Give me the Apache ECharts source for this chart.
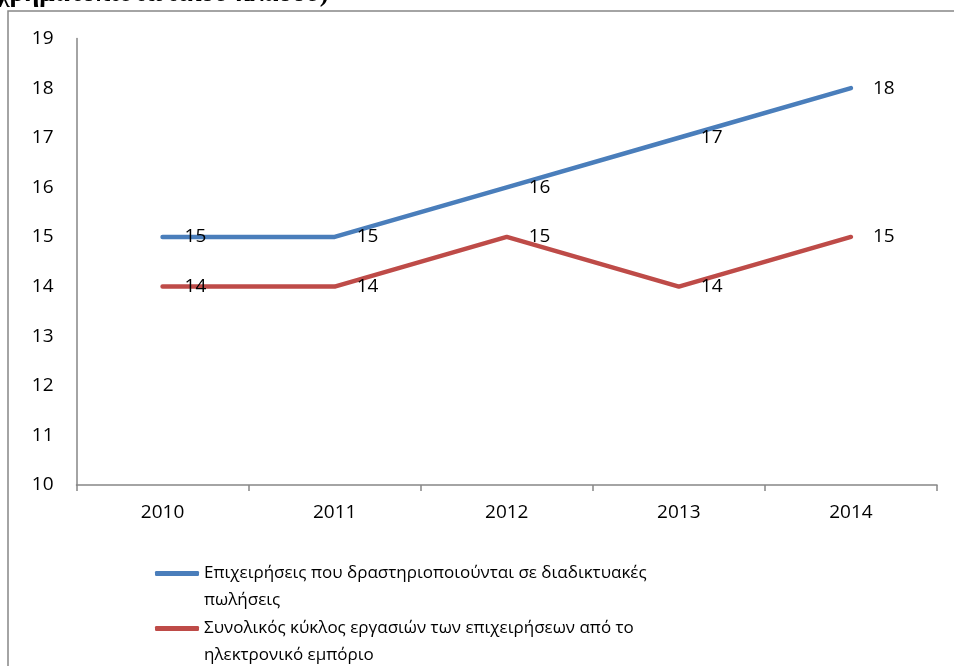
<!DOCTYPE html>
<html>
<head>
<meta charset="utf-8">
<script src="https://cdn.jsdelivr.net/npm/echarts@6/dist/echarts.min.js"></script>
<style>
  html, body { margin: 0; padding: 0; background: #fff; }
  #chart { width: 954px; height: 666px; }
</style>
</head>
<body>
<div id="chart"></div>
<script>
// Years on the category axis
const years = ['2010', '2011', '2012', '2013', '2014'];

// Series names (legend text wraps onto two lines)
const seriesNames = [
  'Επιχειρήσεις που δραστηριοποιούνται σε διαδικτυακές\nπωλήσεις',
  'Συνολικός κύκλος εργασιών των επιχειρήσεων από το\nηλεκτρονικό εμπόριο'
];

// Values per year
const onlineSales = [15, 15, 16, 17, 18];
const ecommerceTurnover = [14, 14, 15, 14, 15];

// Value axis range
const yMin = 10;
const yMax = 19;
const yStep = 1;

const titleText = 'χρηματοπιστωτικού κλάδου)';

const FONT = '"Open Sans", "Noto Sans", sans-serif';
const AXIS_GREY = '#868686';
const BLUE = '#4A7EBB';
const RED = '#BE4B48';

const chart = echarts.init(document.getElementById('chart'), null, { renderer: 'canvas' });

// One legend block per series; a leading blank line keeps the icon level
// with the first line of the wrapped name.
function legendFor(name, top) {
  return {
    data: [name],
    left: 150,
    top: top,
    orient: 'vertical',
    icon: 'roundRect',
    itemWidth: 44,
    itemHeight: 5,
    itemGap: 0,
    padding: 5,
    selectedMode: false,
    formatter: n => '\n' + n,
    textStyle: {
      fontFamily: FONT,
      fontSize: 17,
      color: '#000',
      lineHeight: 27
    }
  };
}

function valueLabel() {
  return {
    show: true,
    position: 'right',
    distance: 22,
    fontFamily: FONT,
    fontSize: 19,
    color: '#000'
  };
}

const option = {
  backgroundColor: '#fff',
  animation: false,
  title: {
    text: titleText,
    left: -3,
    top: -19,
    padding: 0,
    textStyle: {
      fontFamily: '"Liberation Serif", "DejaVu Serif", serif',
      fontWeight: 'bold',
      fontSize: 27,
      color: '#000'
    }
  },
  graphic: [{
    type: 'rect',
    shape: { x: 8, y: 11, width: 1000, height: 800 },
    style: { fill: 'none', stroke: AXIS_GREY, lineWidth: 1.5 },
    silent: true,
    z: -1
  }],
  legend: [
    legendFor(seriesNames[0], 528),
    legendFor(seriesNames[1], 583)
  ],
  grid: {
    left: 76.5,
    top: 38.5,
    right: 17,
    bottom: 181,
    containLabel: false
  },
  xAxis: {
    type: 'category',
    data: years,
    boundaryGap: true,
    axisLine: { lineStyle: { color: AXIS_GREY, width: 1.5 } },
    axisTick: { show: true, length: 6, alignWithLabel: false, lineStyle: { color: AXIS_GREY, width: 1.5 } },
    axisLabel: { fontFamily: FONT, fontSize: 19, color: '#000', margin: 18 },
    splitLine: { show: false }
  },
  yAxis: {
    type: 'value',
    min: yMin,
    max: yMax,
    interval: yStep,
    axisLine: { show: true, lineStyle: { color: AXIS_GREY, width: 1.5 } },
    axisTick: { show: false },
    axisLabel: { fontFamily: FONT, fontSize: 19, color: '#000', margin: 23 },
    splitLine: { show: false }
  },
  series: [
    {
      name: seriesNames[0],
      type: 'line',
      data: onlineSales,
      showSymbol: true,
      symbol: 'circle',
      symbolSize: 0,
      lineStyle: { color: BLUE, width: 4.5, cap: 'round', join: 'round' },
      itemStyle: { color: BLUE },
      label: valueLabel(),
      z: 3
    },
    {
      name: seriesNames[1],
      type: 'line',
      data: ecommerceTurnover,
      showSymbol: true,
      symbol: 'circle',
      symbolSize: 0,
      lineStyle: { color: RED, width: 4.5, cap: 'round', join: 'round' },
      itemStyle: { color: RED },
      label: valueLabel(),
      z: 2
    }
  ]
};

chart.setOption(option);
</script>
</body>
</html>
